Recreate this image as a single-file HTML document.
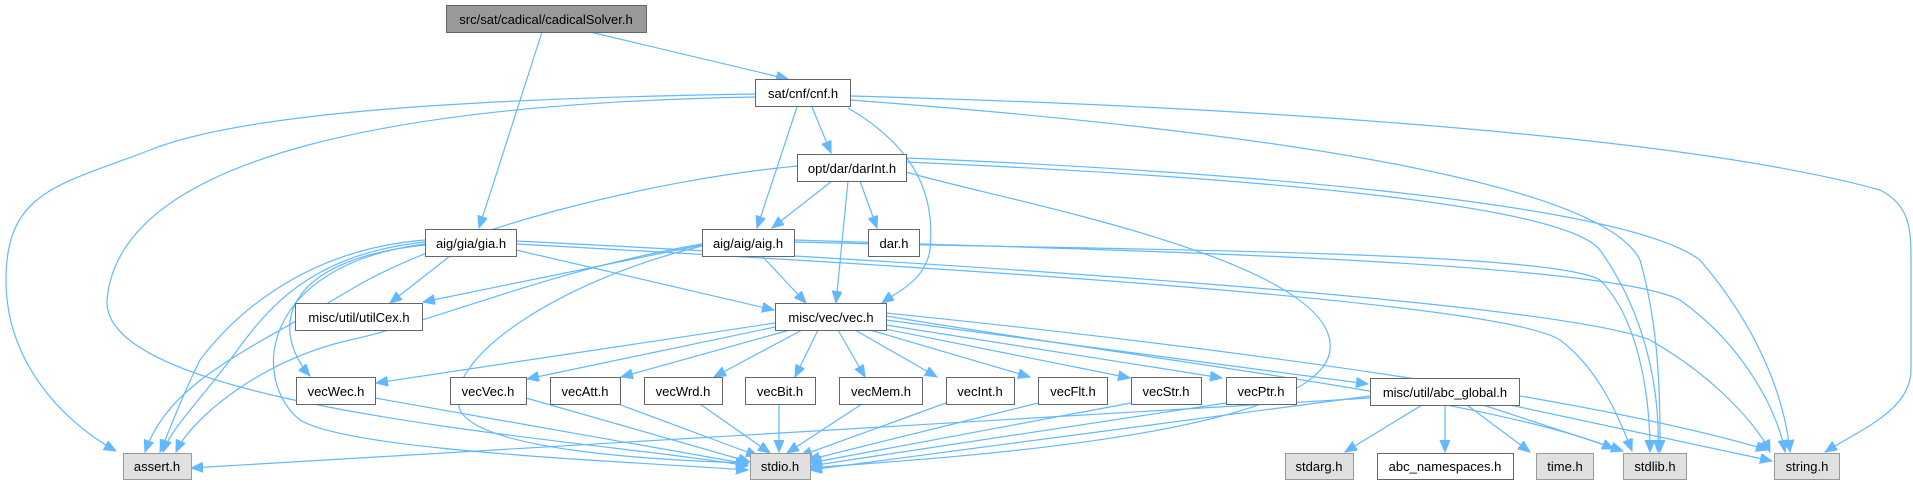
<!DOCTYPE html>
<html><head><meta charset="utf-8"><style>
html,body{margin:0;padding:0;background:#fff;}
svg{display:block;}
text{font-family:"Liberation Sans",Arial,sans-serif;font-size:13px;fill:#000;}
</style></head><body>
<svg width="1913" height="485" viewBox="0 0 1913 485" xmlns="http://www.w3.org/2000/svg">
<defs>
<marker id="a" markerUnits="userSpaceOnUse" markerWidth="14" markerHeight="12" refX="12" refY="5" orient="auto">
<path d="M0,0 L12,5 L0,10 Z" fill="#63b8ff" stroke="#63b8ff"/>
</marker>
</defs>
<g fill="none" stroke="#63b8ff" stroke-width="1.2" marker-end="url(#a)">
<!-- cadical -->
<path d="M590,32 L788,79"/>
<path d="M542,32 L479,228"/>
<!-- cnf -->
<path d="M755,94 C500,98 250,110 150,150 C60,185 6,190 6,280 C6,360 60,420 116,451"/>
<path d="M755,97 C420,103 120,150 107,300 C100,410 600,440 748,466"/>
<path d="M812,107 L831,153"/>
<path d="M797,107 L757,228"/>
<path d="M848,108 C920,150 935,200 930,250 C925,280 900,290 882,303"/>
<path d="M850,100 C1250,130 1600,180 1640,260 C1660,330 1660,400 1660,452"/>
<path d="M850,96 C1300,108 1700,140 1880,190 C1910,205 1911,230 1911,260 L1911,370 C1911,410 1860,430 1825,452"/>
<!-- darInt -->
<path d="M797,166 C650,180 450,230 350,290 C250,350 170,380 145,452"/>
<path d="M832,181 L772,228"/>
<path d="M860,181 L877,228"/>
<path d="M848,181 L836,303"/>
<path d="M906,172 C1000,200 1340,260 1330,350 C1320,440 900,460 810,468"/>
<path d="M906,162 C1200,175 1560,200 1600,250 C1650,320 1660,400 1658,452"/>
<path d="M906,158 C1200,170 1620,200 1700,260 C1760,330 1785,400 1790,452"/>
<!-- gia -->
<path d="M450,256 L390,303"/>
<path d="M516,250 L774,310"/>
<path d="M425,245 C280,260 270,330 310,376"/>
<path d="M425,240 C300,250 230,320 200,360 C180,400 170,430 160,452"/>
<path d="M425,242 C300,255 260,320 230,360 C200,400 170,430 163,452"/>
<path d="M425,244 C260,265 250,380 300,420 C350,450 600,460 748,470"/>
<path d="M516,244 C900,265 1500,300 1560,340 C1600,370 1620,420 1632,451"/>
<path d="M516,241 C900,260 1550,300 1650,340 C1720,380 1760,430 1770,452"/>
<!-- aig -->
<path d="M702,245 L423,302"/>
<path d="M762,256 L806,303"/>
<path d="M702,244 C550,270 440,320 350,340 C260,360 190,420 176,452"/>
<path d="M702,246 C560,280 440,360 460,410 C480,450 650,460 748,463"/>
<path d="M794,242 C1100,250 1550,250 1600,280 C1640,320 1650,400 1650,452"/>
<path d="M794,240 C1100,250 1600,260 1680,300 C1750,350 1780,420 1785,452"/>
<!-- vec -->
<path d="M775,323 L376,383"/>
<path d="M780,326 L527,379"/>
<path d="M790,330 L621,377"/>
<path d="M802,330 L714,377"/>
<path d="M818,330 L795,377"/>
<path d="M838,330 L865,377"/>
<path d="M855,330 L937,377"/>
<path d="M870,330 L1030,377"/>
<path d="M880,328 L1130,378"/>
<path d="M886,325 L1222,378"/>
<path d="M886,320 L1368,384"/>
<path d="M886,316 C1150,360 1500,400 1614,449"/>
<path d="M886,313 C1250,350 1600,400 1768,450"/>
<!-- vec* -> stdio -->
<path d="M375,398 L748,464"/>
<path d="M526,398 L750,462"/>
<path d="M618,404 L758,456"/>
<path d="M700,404 L770,453"/>
<path d="M779,404 L779,452"/>
<path d="M862,404 L787,453"/>
<path d="M946,403 L800,456"/>
<path d="M1038,403 L808,460"/>
<path d="M1131,403 L810,463"/>
<path d="M1226,403 L810,466"/>
<!-- abc_global -->
<path d="M1370,398 L191,468"/>
<path d="M1370,396 L810,470"/>
<path d="M1422,405 L1345,452"/>
<path d="M1445,405 L1445,452"/>
<path d="M1467,405 L1530,452"/>
<path d="M1483,405 L1623,451"/>
<path d="M1510,405 L1772,461"/>
</g>
<g stroke-width="1">
<rect x="446.5" y="5.5" width="200" height="27" fill="#999999" stroke="#666"/>
<text x="546" y="24" text-anchor="middle">src/sat/cadical/cadicalSolver.h</text>
<g fill="#fff" stroke="#666">
<rect x="755.5" y="79.5" width="95" height="27"/>
<rect x="797.5" y="154.5" width="109" height="27"/>
<rect x="425.5" y="229.5" width="91" height="27"/>
<rect x="702.5" y="229.5" width="92" height="27"/>
<rect x="868.5" y="229.5" width="51" height="27"/>
<rect x="295.5" y="303.5" width="127" height="27"/>
<rect x="775.5" y="303.5" width="111" height="27"/>
<rect x="296.5" y="377.5" width="79" height="27"/>
<rect x="450.5" y="377.5" width="76" height="27"/>
<rect x="550.5" y="377.5" width="70" height="27"/>
<rect x="644.5" y="377.5" width="78" height="27"/>
<rect x="745.5" y="377.5" width="70" height="27"/>
<rect x="839.5" y="377.5" width="83" height="27"/>
<rect x="946.5" y="377.5" width="68" height="27"/>
<rect x="1038.5" y="377.5" width="69" height="27"/>
<rect x="1131.5" y="377.5" width="70" height="27"/>
<rect x="1226.5" y="377.5" width="70" height="27"/>
<rect x="1370.5" y="378.5" width="149" height="27"/>
<rect x="1377.5" y="453.5" width="136" height="26"/>
</g>
<g fill="#e0e0e0" stroke="#999">
<rect x="123.5" y="453.5" width="68" height="26"/>
<rect x="750.5" y="453.5" width="60" height="26"/>
<rect x="1285.5" y="453.5" width="68" height="26"/>
<rect x="1536.5" y="453.5" width="57" height="26"/>
<rect x="1623.5" y="453.5" width="63" height="26"/>
<rect x="1774.5" y="453.5" width="65" height="26"/>
</g>
</g>
<g text-anchor="middle">
<text x="803" y="98">sat/cnf/cnf.h</text>
<text x="852" y="173">opt/dar/darInt.h</text>
<text x="471" y="248">aig/gia/gia.h</text>
<text x="748" y="248">aig/aig/aig.h</text>
<text x="894" y="248">dar.h</text>
<text x="359" y="322">misc/util/utilCex.h</text>
<text x="831" y="322">misc/vec/vec.h</text>
<text x="336" y="396">vecWec.h</text>
<text x="488" y="396">vecVec.h</text>
<text x="585" y="396">vecAtt.h</text>
<text x="683" y="396">vecWrd.h</text>
<text x="780" y="396">vecBit.h</text>
<text x="881" y="396">vecMem.h</text>
<text x="980" y="396">vecInt.h</text>
<text x="1073" y="396">vecFlt.h</text>
<text x="1166" y="396">vecStr.h</text>
<text x="1261" y="396">vecPtr.h</text>
<text x="1445" y="397">misc/util/abc_global.h</text>
<text x="157" y="471">assert.h</text>
<text x="780" y="471">stdio.h</text>
<text x="1319" y="471">stdarg.h</text>
<text x="1445" y="471">abc_namespaces.h</text>
<text x="1565" y="471">time.h</text>
<text x="1655" y="471">stdlib.h</text>
<text x="1807" y="471">string.h</text>
</g>
</svg>
</body></html>
